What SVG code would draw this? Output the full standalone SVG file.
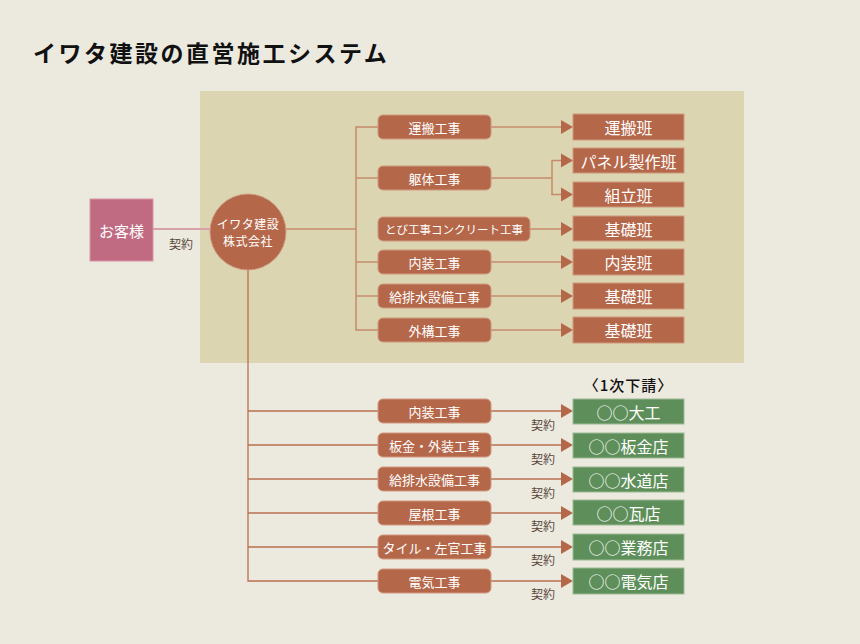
<svg xmlns="http://www.w3.org/2000/svg" width="860" height="644" viewBox="0 0 860 644">
<style>
text{font-family:"Noto Sans CJK JP","Noto Sans",sans-serif;}
.ln{stroke:#C68B6B;stroke-width:1.5;fill:none;}
.ln2{stroke:#B96F52;stroke-width:1.3;fill:none;}
.tb{fill:#B5674A;stroke:#CF9A7E;stroke-width:1;}
.rb{fill:#B5674A;stroke:#CF9A7E;stroke-width:1;}
.gb{fill:#5E8F5A;stroke:#9DBB96;stroke-width:1;}
.tt{fill:#fff;font-size:13px;text-anchor:middle;dominant-baseline:central;}
.rt{fill:#fff;font-size:16px;text-anchor:middle;dominant-baseline:central;}
.kk{fill:#5A4A3E;font-size:12px;text-anchor:middle;dominant-baseline:central;}
.ar{fill:#B5674A;}
</style>
<rect width="860" height="644" fill="#ECE9DF"/>
<rect x="200" y="91" width="544" height="272" fill="#DBD5B2"/>
<text x="33" y="62" font-size="23" font-weight="bold" fill="#111" letter-spacing="2.5">イワタ建設の直営施工システム</text>

<g id="connectors">
  <line x1="153" y1="229" x2="211" y2="229" stroke="#D8A2AA" stroke-width="2"/>
  <line x1="286" y1="229" x2="356" y2="229" class="ln"/>
  <polyline points="378,127 356,127 356,330 378,330" class="ln"/>
  <line x1="356" y1="178" x2="378" y2="178" class="ln"/>
  <line x1="356" y1="262" x2="378" y2="262" class="ln"/>
  <line x1="356" y1="296" x2="378" y2="296" class="ln"/>
  <line x1="491" y1="127" x2="562" y2="127" class="ln"/>
  <line x1="491" y1="178" x2="552" y2="178" class="ln"/>
  <polyline points="562,160.5 552,160.5 552,194.5 562,194.5" class="ln"/>
  <line x1="530" y1="229" x2="562" y2="229" class="ln"/>
  <line x1="491" y1="262" x2="562" y2="262" class="ln"/>
  <line x1="491" y1="296" x2="562" y2="296" class="ln"/>
  <line x1="491" y1="330" x2="562" y2="330" class="ln"/>
  <polygon class="ar" points="561,120 573,127 561,134"/>
  <polygon class="ar" points="561,153.5 573,160.5 561,167.5"/>
  <polygon class="ar" points="561,187.5 573,194.5 561,201.5"/>
  <polygon class="ar" points="561,222 573,229 561,236"/>
  <polygon class="ar" points="561,255 573,262 561,269"/>
  <polygon class="ar" points="561,289 573,296 561,303"/>
  <polygon class="ar" points="561,323 573,330 561,337"/>

  <polyline points="248,270 248,581 378,581" class="ln2"/>
  <line x1="248" y1="411" x2="378" y2="411" class="ln2"/>
  <line x1="248" y1="445" x2="378" y2="445" class="ln2"/>
  <line x1="248" y1="479" x2="378" y2="479" class="ln2"/>
  <line x1="248" y1="513" x2="378" y2="513" class="ln2"/>
  <line x1="248" y1="547" x2="378" y2="547" class="ln2"/>
  <line x1="491" y1="411" x2="562" y2="411" class="ln2"/>
  <line x1="491" y1="445" x2="562" y2="445" class="ln2"/>
  <line x1="491" y1="479" x2="562" y2="479" class="ln2"/>
  <line x1="491" y1="513" x2="562" y2="513" class="ln2"/>
  <line x1="491" y1="547" x2="562" y2="547" class="ln2"/>
  <line x1="491" y1="581" x2="562" y2="581" class="ln2"/>
  <polygon class="ar" points="561,404 573,411 561,418"/>
  <polygon class="ar" points="561,438 573,445 561,452"/>
  <polygon class="ar" points="561,472 573,479 561,486"/>
  <polygon class="ar" points="561,506 573,513 561,520"/>
  <polygon class="ar" points="561,540 573,547 561,554"/>
  <polygon class="ar" points="561,574 573,581 561,588"/>
  <text class="kk" x="181" y="243">契約</text>
  <text class="kk" x="543" y="424">契約</text>
  <text class="kk" x="543" y="458">契約</text>
  <text class="kk" x="543" y="492">契約</text>
  <text class="kk" x="543" y="525">契約</text>
  <text class="kk" x="543" y="559">契約</text>
  <text class="kk" x="543" y="593">契約</text>
</g>

<g id="customer"><rect x="90" y="199" width="63" height="62" fill="#C06B82" stroke="#D595A6" stroke-width="1"/><text class="rt" x="121.5" y="230" style="font-size:15px">お客様</text></g>
<g id="iwata"><circle cx="248" cy="232" r="38" fill="#B5674A" stroke="#CF9A7E" stroke-width="1"/><text class="tt" x="248" y="223.5" style="font-size:12px" letter-spacing="0.5">イワタ建設</text><text class="tt" x="248" y="240.5" style="font-size:12px" letter-spacing="0.5">株式会社</text></g>

<g id="w1"><rect class="tb" x="378" y="115" width="113" height="24" rx="5"/><text class="tt" x="434.5" y="127">運搬工事</text></g>
<g id="w2"><rect class="tb" x="378" y="166" width="113" height="24" rx="5"/><text class="tt" x="434.5" y="178">躯体工事</text></g>
<g id="w3"><rect class="tb" x="378" y="217" width="152" height="24" rx="5"/><text class="tt" x="454" y="229" style="font-size:11.5px">とび工事コンクリート工事</text></g>
<g id="w4"><rect class="tb" x="378" y="250" width="113" height="24" rx="5"/><text class="tt" x="434.5" y="262">内装工事</text></g>
<g id="w5"><rect class="tb" x="378" y="284" width="113" height="24" rx="5"/><text class="tt" x="434.5" y="296">給排水設備工事</text></g>
<g id="w6"><rect class="tb" x="378" y="318" width="113" height="24" rx="5"/><text class="tt" x="434.5" y="330">外構工事</text></g>

<g id="t1"><rect class="rb" x="573" y="114" width="111" height="26"/><text class="rt" x="628.5" y="127">運搬班</text></g>
<g id="t2"><rect class="rb" x="573" y="148" width="111" height="25"/><text class="rt" x="628.5" y="160.5">パネル製作班</text></g>
<g id="t3"><rect class="rb" x="573" y="182" width="111" height="25"/><text class="rt" x="628.5" y="194.5">組立班</text></g>
<g id="t4"><rect class="rb" x="573" y="216" width="111" height="25"/><text class="rt" x="628.5" y="228.5">基礎班</text></g>
<g id="t5"><rect class="rb" x="573" y="249" width="111" height="26"/><text class="rt" x="628.5" y="262">内装班</text></g>
<g id="t6"><rect class="rb" x="573" y="283" width="111" height="26"/><text class="rt" x="628.5" y="296">基礎班</text></g>
<g id="t7"><rect class="rb" x="573" y="317" width="111" height="26"/><text class="rt" x="628.5" y="330">基礎班</text></g>

<text x="628.5" y="384" font-size="15" font-weight="500" fill="#111" text-anchor="middle" dominant-baseline="central" letter-spacing="1">〈1次下請〉</text>

<g id="s1"><rect class="tb" x="378" y="399" width="113" height="24" rx="5"/><text class="tt" x="434.5" y="411">内装工事</text></g>
<g id="s2"><rect class="tb" x="378" y="433" width="113" height="24" rx="5"/><text class="tt" x="434.5" y="445">板金・外装工事</text></g>
<g id="s3"><rect class="tb" x="378" y="467" width="113" height="24" rx="5"/><text class="tt" x="434.5" y="479">給排水設備工事</text></g>
<g id="s4"><rect class="tb" x="378" y="501" width="113" height="24" rx="5"/><text class="tt" x="434.5" y="513">屋根工事</text></g>
<g id="s5"><rect class="tb" x="378" y="535" width="113" height="24" rx="5"/><text class="tt" x="434.5" y="547">タイル・左官工事</text></g>
<g id="s6"><rect class="tb" x="378" y="569" width="113" height="24" rx="5"/><text class="tt" x="434.5" y="581">電気工事</text></g>

<g id="g1"><rect class="gb" x="573" y="399" width="111" height="25"/><text class="rt" x="628.5" y="411.5">○○大工</text></g>
<g id="g2"><rect class="gb" x="573" y="433" width="111" height="25"/><text class="rt" x="628.5" y="445.5">○○板金店</text></g>
<g id="g3"><rect class="gb" x="573" y="467" width="111" height="25"/><text class="rt" x="628.5" y="479.5">○○水道店</text></g>
<g id="g4"><rect class="gb" x="573" y="500" width="111" height="25"/><text class="rt" x="628.5" y="512.5">○○瓦店</text></g>
<g id="g5"><rect class="gb" x="573" y="534" width="111" height="26"/><text class="rt" x="628.5" y="547">○○業務店</text></g>
<g id="g6"><rect class="gb" x="573" y="568" width="111" height="26"/><text class="rt" x="628.5" y="581">○○電気店</text></g>
</svg>
